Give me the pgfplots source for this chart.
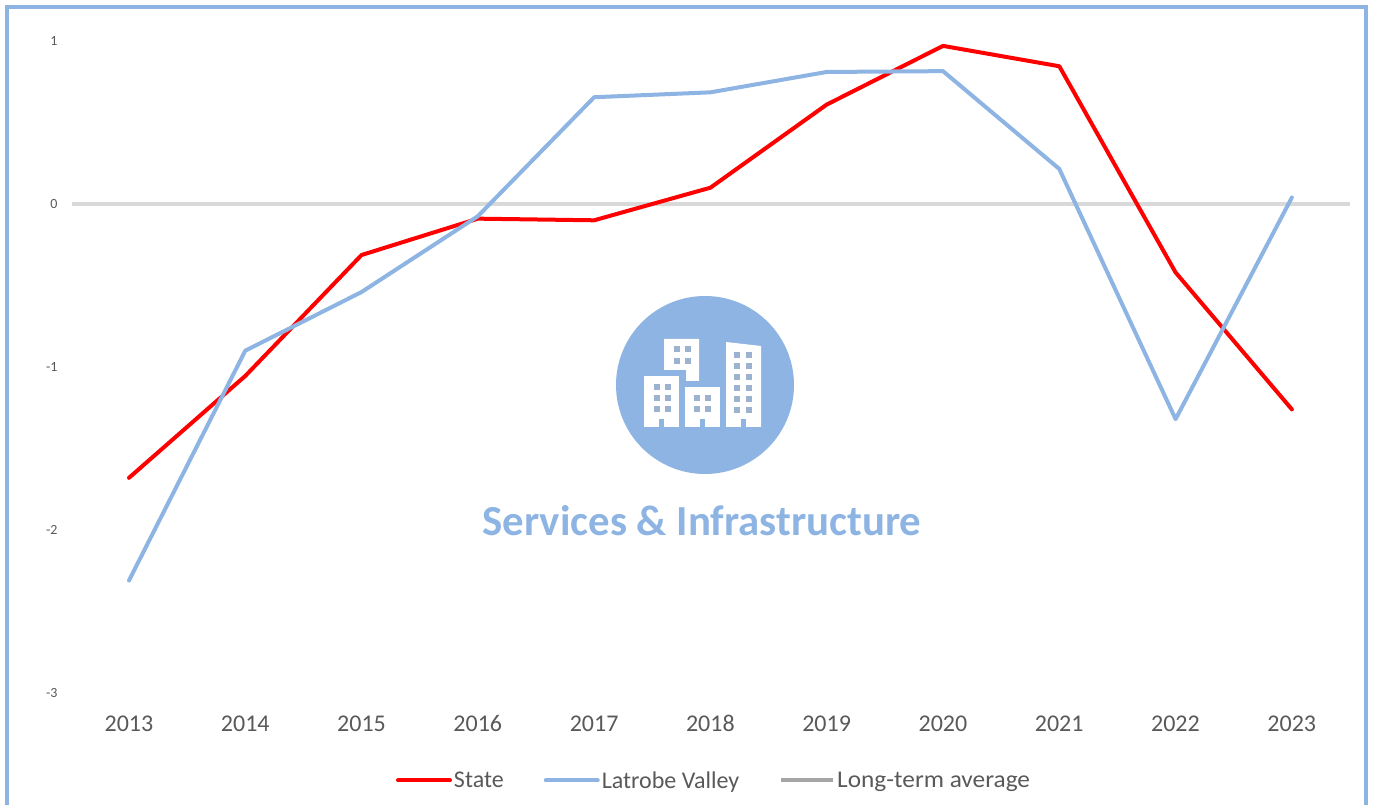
\documentclass[border=0pt]{standalone}
\usepackage{pgfplots}
\usepackage{fontspec}
\setmainfont[Numbers=Lining]{Carlito}
\newfontfamily\stretched[Numbers=Lining,FakeStretch=1.055]{Carlito}
\pgfplotsset{compat=1.18}
\definecolor{lv}{HTML}{8DB4E2}
\definecolor{txt}{HTML}{595959}
\definecolor{zero}{HTML}{D9D9D9}
\definecolor{leg}{HTML}{A5A5A5}
\definecolor{win}{HTML}{9DB2CF}
\begin{document}
\begin{tikzpicture}[x=1pt,y=1pt]
\path[use as bounding box] (0,0) rectangle (1375,805);
% frame
\draw[lv,line width=4pt] (6.5,-20) -- (6.5,798) -- (1366,798) -- (1366,-20);
\begin{axis}[
  at={(72pt,112pt)}, anchor=south west,
  scale only axis, width=1278pt, height=652pt,
  xmin=2012.51, xmax=2023.5, ymin=-3, ymax=1,
  axis line style={draw=none}, major tick length=0pt,
  xtick={2013,...,2023}, ytick={-3,-2,-1,0,1},
  xticklabel style={/pgf/number format/1000 sep={}},
  /pgf/number format/assume math mode=true,
  tick label style={text=txt},
  x tick label style={font=\fontsize{24}{26}\selectfont, anchor=base, yshift=-39pt},
  y tick label style={font=\fontsize{14}{16}\selectfont, xshift=-11pt},
  clip=false,
  legend columns=3,
  legend style={at={(642pt,-87.5pt)}, anchor=center, draw=none, fill=none,
    font=\fontsize{24}{26}\selectfont\color{txt},
    /tikz/every even column/.append style={column sep=38pt},
    inner sep=0pt},
  legend cell align=left,
  legend image code/.code={\draw[#1] (0pt,0pt) -- (52pt,0pt);},
]
\addplot[zero, line width=3.5pt, forget plot] coordinates {(2012.51,0) (2023.5,0)};
\addplot[red, line width=4pt, line join=round, line cap=round] coordinates {
(2013,-1.68)(2014,-1.055)(2015,-0.313)(2016,-0.09)(2017,-0.10)(2018,0.10)
(2019,0.61)(2020,0.97)(2021,0.845)(2022,-0.42)(2023,-1.26)};
\addlegendentry{State}
\addplot[lv, line width=4pt, line join=round, line cap=round] coordinates {
(2013,-2.31)(2014,-0.90)(2015,-0.54)(2016,-0.075)(2017,0.655)(2018,0.685)
(2019,0.81)(2020,0.815)(2021,0.215)(2022,-1.32)(2023,0.04)};
\addlegendentry{Latrobe Valley}
\addlegendimage{leg, line width=4pt}
\addlegendentry{\stretched Long-term average}
\end{axis}
% icon, pixel coordinates
\begin{scope}[shift={(0,805)},x=1pt,y=-1pt]
\fill[lv] (705,385) circle[radius=89pt];
\fill[white] (664,339) -- (699,339) -- (699,381) -- (686,381) -- (686,370) -- (664,370) -- cycle;
\fill[white] (644,376) rectangle (679,427);
\fill[white] (685,387) rectangle (720,427);
\fill[white] (726,342) -- (761,346) -- (761,427) -- (726,427) -- cycle;
\foreach \x/\y in {677/349,688/349,677/361,688/361}
  \fill[win] (\x-3,\y-3) rectangle ++(6,6);
\foreach \x in {657,668} \foreach \y in {387,398,409}
  \fill[win] (\x-3,\y-3) rectangle ++(6,6);
\foreach \x in {697,708} \foreach \y in {398,409}
  \fill[win] (\x-3,\y-3) rectangle ++(6,6);
\foreach \x in {737,749} \foreach \y in {355,366,377,388,399,410}
  \fill[win] (\x-3,\y-3) rectangle ++(6,6);
\fill[lv] (659,419) rectangle (664,427);
\fill[lv] (700,419) rectangle (705,427);
\fill[lv] (740.5,419) rectangle (746,427);
\node[text=lv,font=\fontsize{42.8}{45}\selectfont\bfseries,inner sep=0pt] at (702,521) {Services \& Infrastructure};
\end{scope}
\end{tikzpicture}
\end{document}
